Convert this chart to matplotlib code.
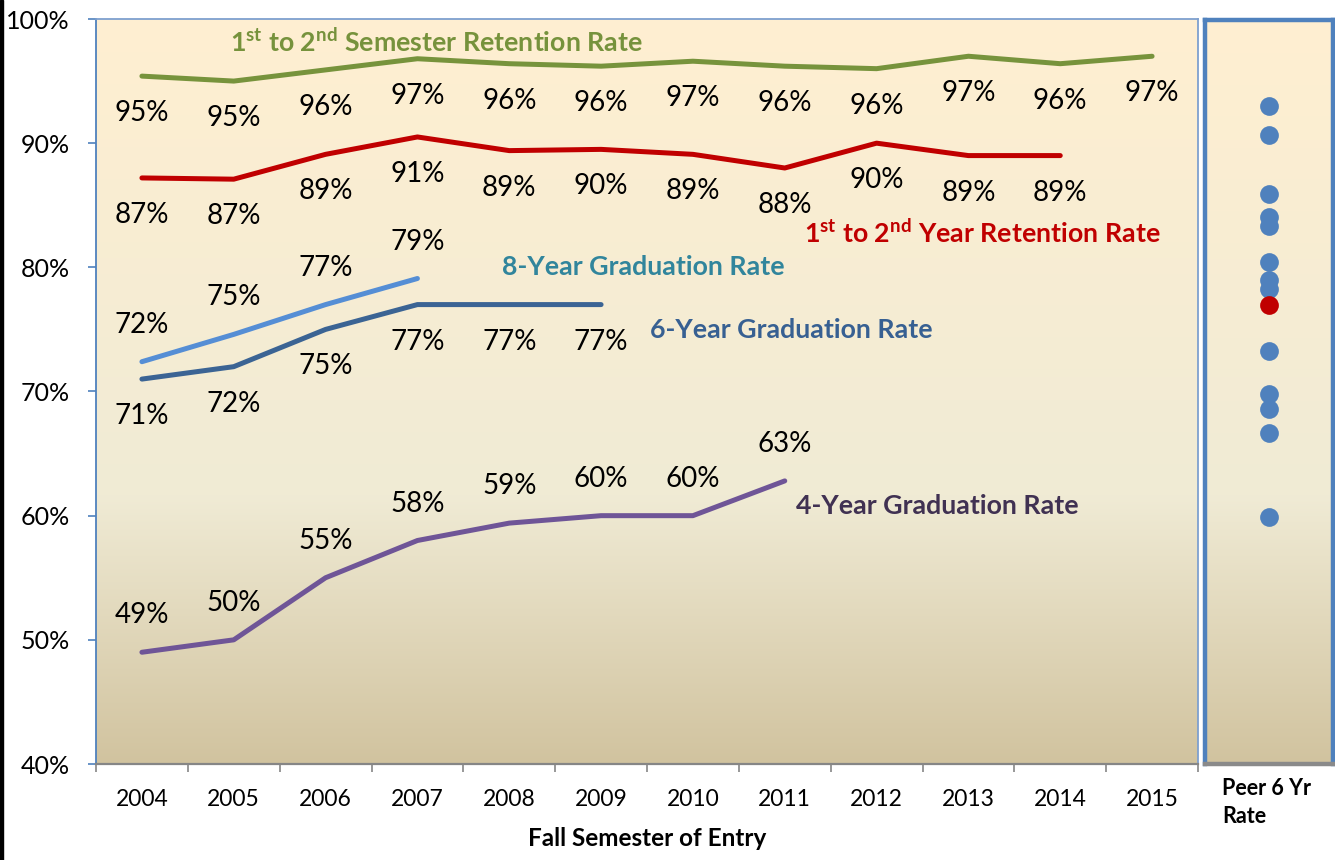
import numpy as np
import matplotlib
matplotlib.use("Agg")
import matplotlib.pyplot as plt
from matplotlib.patches import Rectangle
from matplotlib.colors import to_rgb

plt.rcParams['font.family'] = ['Lato', 'DejaVu Sans']
plt.rcParams['mathtext.fontset'] = 'custom'
plt.rcParams['mathtext.rm'] = 'Lato'
plt.rcParams['mathtext.it'] = 'Lato:italic'
plt.rcParams['mathtext.bf'] = 'Lato:bold'

# ---------------- data ----------------
years = ['2004', '2005', '2006', '2007', '2008', '2009', '2010', '2011', '2012', '2013', '2014', '2015']
sem_ret = [95.4, 95.0, 95.9, 96.8, 96.4, 96.2, 96.6, 96.2, 96.0, 97.0, 96.4, 97.0]
sem_lbl = [95, 95, 96, 97, 96, 96, 97, 96, 96, 97, 96, 97]
yr_ret = [87.2, 87.1, 89.1, 90.5, 89.4, 89.5, 89.1, 88.0, 90.0, 89.0, 89.0]
yr_lbl = [87, 87, 89, 91, 89, 90, 89, 88, 90, 89, 89]
grad8 = [72.4, 74.6, 77.0, 79.1]
grad8_lbl = [72, 75, 77, 79]
grad6 = [71.0, 72.0, 75.0, 77.0, 77.0, 77.0]
grad6_lbl = [71, 72, 75, 77, 77, 77]
grad4 = [49.0, 50.0, 55.0, 58.0, 59.4, 60.0, 60.0, 62.8]
grad4_lbl = [49, 50, 55, 58, 59, 60, 60, 63]
peer6 = [93.1, 90.7, 86.0, 84.1, 83.4, 80.5, 79.05, 78.3, 73.3, 69.85, 68.6, 66.7, 59.9]
own6 = 77.0
yticks = [40, 50, 60, 70, 80, 90, 100]

# ---------------- figure ----------------
W, H = 1335, 860
fig = plt.figure(figsize=(W / 100, H / 100), dpi=100)
ax = fig.add_axes([96 / W, 1 - 764 / H, 1102 / W, 745 / H])
pax = fig.add_axes([1205 / W, 1 - 764 / H, 128 / W, 744 / H])

# parchment gradient
stops = [(0.0, '#FFEFD1'), (0.64, '#F0EBD5'), (1.0, '#D1C39F')]
t = np.linspace(0, 1, 300)
cols = np.zeros((300, 1, 3))
for ch in range(3):
    cols[:, 0, ch] = np.interp(t, [s[0] for s in stops], [to_rgb(s[1])[ch] for s in stops])
for a in (ax, pax):
    a.imshow(cols, extent=[0, 1, 0, 1], transform=a.transAxes, aspect='auto',
             origin='upper', zorder=0, interpolation='bilinear')

LW = 3.6
OFF = 26.6  # points
LBL_FS = 20
NAME_FS = 19.3

series = [
    (sem_ret, sem_lbl, '#77933C', -OFF),
    (yr_ret, yr_lbl, '#C00000', -OFF),
    (grad8, grad8_lbl, '#558ED5', OFF),
    (grad6, grad6_lbl, '#3B6494', -OFF),
    (grad4, grad4_lbl, '#6F5597', OFF),
]
for vals, lbls, col, off in series:
    x = np.arange(len(vals))
    ax.plot(x, vals, color=col, lw=LW, solid_capstyle='round', solid_joinstyle='round', zorder=3)
    for xi, v, l in zip(x, vals, lbls):
        ax.annotate(f"{l}%", (xi, v), xytext=(0, off), textcoords='offset points',
                    ha='center', va='center', fontsize=LBL_FS, color='black', zorder=4)

# series names
ax.text(3.21, 98.13, r'1$^{\mathbf{st}}$ to 2$^{\mathbf{nd}}$ Semester Retention Rate',
        color='#76923C', fontsize=NAME_FS, fontweight='bold', ha='center', va='center')
ax.text(9.15, 82.75, r'1$^{\mathbf{st}}$ to 2$^{\mathbf{nd}}$ Year Retention Rate',
        color='#C00000', fontsize=NAME_FS, fontweight='bold', ha='center', va='center')
ax.text(5.46, 80.02, '8-Year Graduation Rate', color='#31859C', fontsize=NAME_FS,
        fontweight='bold', ha='center', va='center')
ax.text(7.07, 74.94, '6-Year Graduation Rate', color='#376092', fontsize=NAME_FS,
        fontweight='bold', ha='center', va='center')
ax.text(8.66, 60.77, '4-Year Graduation Rate', color='#403152', fontsize=NAME_FS,
        fontweight='bold', ha='center', va='center')

# axes styling
ax.set_xlim(-0.5, 11.5)
ax.set_ylim(40, 100)
ax.set_xticks(range(len(years)))
ax.set_xticklabels(years)
ax.set_xticks(np.arange(-0.5, 12, 1), minor=True)
ax.tick_params(axis='x', which='major', length=0, pad=18, labelsize=16.5)
ax.tick_params(axis='x', which='minor', length=6, width=1.2, color='#868686', direction='out')
ax.set_yticks(yticks)
ax.set_yticklabels([f"{v}%" for v in yticks])
ax.tick_params(axis='y', length=6, width=1.2, color='#4F81BD', pad=13, labelsize=18)
ax.spines['left'].set_color('#4F81BD')
ax.spines['left'].set_linewidth(1.3)
ax.spines['top'].set_color('#7EA0CF')
ax.spines['right'].set_color('#7EA0CF')
ax.spines['top'].set_linewidth(1.3)
ax.spines['right'].set_linewidth(1.3)
ax.spines['bottom'].set_color('#868686')
ax.spines['bottom'].set_linewidth(1.6)

ax.set_xlabel('Fall Semester of Entry', fontsize=17.5, fontweight='bold')
ax.xaxis.set_label_coords(0.5, (764 - 838) / 745)
ax.xaxis.label.set_va('center')

# peer panel
pax.set_xlim(-1, 1)
pax.set_ylim(40, 100)
pax.plot(np.zeros(len(peer6)), peer6, 'o', color='#4F81BD', ms=13.5, mec='none', zorder=3)
pax.plot([0], [own6], 'o', color='#C00000', ms=13.5, mec='none', zorder=4)
pax.set_xticks([])
pax.set_yticks([])
for s in ('left', 'right', 'top'):
    pax.spines[s].set_color('#4F81BD')
    pax.spines[s].set_linewidth(3.2)
pax.spines['bottom'].set_color('#8A8A8A')
pax.spines['bottom'].set_linewidth(3.2)

fig.text(1222 / W, 1 - 802.5 / H, 'Peer 6 Yr\nRate', fontsize=15.5, fontweight='bold',
         ha='left', va='center', linespacing=1.4)

fig.add_artist(Rectangle((0, 0), 3 / W, 1, transform=fig.transFigure, color='black'))

fig.savefig('out.png', dpi=100)
